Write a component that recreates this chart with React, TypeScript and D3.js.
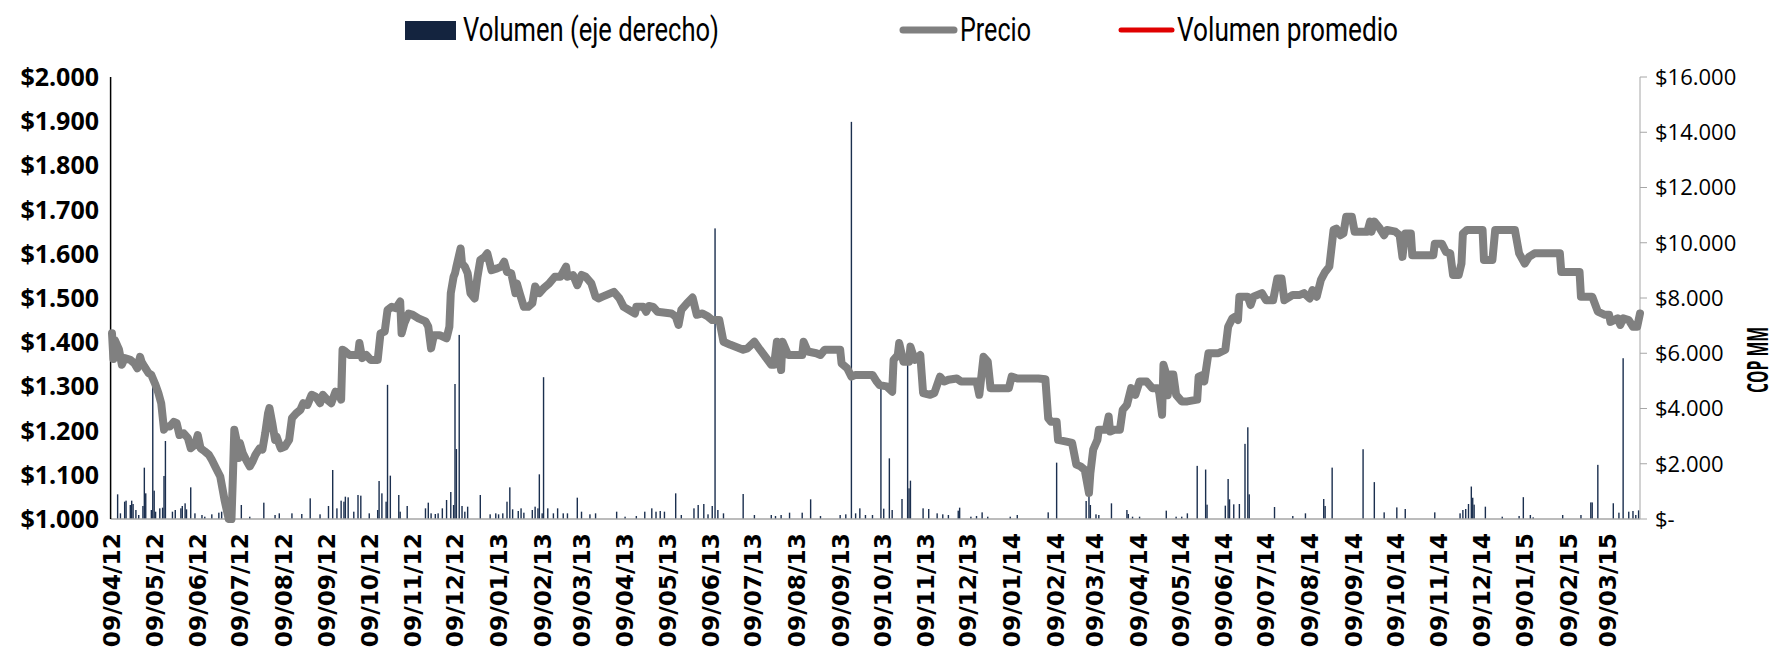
import React from 'react';
import * as d3 from 'd3';

const priceSeries: [string, number][] = [
  ["2012-04-09",1420],["2012-04-10",1362],["2012-04-11",1405],["2012-04-14",1383],["2012-04-16",1349],["2012-04-18",1364],
  ["2012-04-22",1360],["2012-04-25",1352],["2012-04-27",1341],["2012-04-29",1367],["2012-04-30",1356],["2012-05-02",1345],
  ["2012-05-05",1330],["2012-05-07",1326],["2012-05-10",1303],["2012-05-12",1285],["2012-05-14",1262],["2012-05-16",1202],
  ["2012-05-17",1209],["2012-05-20",1209],["2012-05-23",1220],["2012-05-25",1217],["2012-05-27",1190],["2012-05-30",1194],
  ["2012-06-02",1183],["2012-06-04",1160],["2012-06-07",1168],["2012-06-09",1190],["2012-06-11",1160],["2012-06-14",1153],
  ["2012-06-17",1145],["2012-06-19",1134],["2012-06-22",1115],["2012-06-25",1096],["2012-06-28",1044],["2012-07-01",1000],
  ["2012-07-03",1000],["2012-07-04",1096],["2012-07-05",1202],["2012-07-07",1172],["2012-07-08",1138],["2012-07-09",1172],
  ["2012-07-11",1149],["2012-07-14",1130],["2012-07-16",1119],["2012-07-18",1130],["2012-07-20",1145],["2012-07-23",1160],
  ["2012-07-25",1157],["2012-07-27",1194],["2012-07-29",1239],["2012-07-30",1251],["2012-08-01",1217],["2012-08-03",1179],
  ["2012-08-04",1187],["2012-08-07",1160],["2012-08-10",1164],["2012-08-13",1179],["2012-08-15",1228],["2012-08-18",1239],
  ["2012-08-21",1247],["2012-08-23",1262],["2012-08-26",1258],["2012-08-29",1281],["2012-09-01",1277],["2012-09-04",1262],
  ["2012-09-06",1281],["2012-09-09",1270],["2012-09-12",1262],["2012-09-15",1288],["2012-09-17",1285],["2012-09-19",1270],
  ["2012-09-20",1383],["2012-09-22",1379],["2012-09-25",1371],["2012-10-01",1371],["2012-10-02",1398],["2012-10-04",1364],
  ["2012-10-07",1371],["2012-10-10",1360],["2012-10-15",1360],["2012-10-17",1420],["2012-10-20",1424],["2012-10-22",1473],
  ["2012-10-25",1480],["2012-10-28",1477],["2012-10-31",1492],["2012-11-01",1420],["2012-11-03",1443],["2012-11-06",1465],
  ["2012-11-09",1462],["2012-11-13",1454],["2012-11-18",1447],["2012-11-20",1435],["2012-11-22",1386],["2012-11-24",1416],
  ["2012-11-28",1416],["2012-12-03",1409],["2012-12-05",1435],["2012-12-06",1511],["2012-12-08",1548],["2012-12-09",1556],
  ["2012-12-10",1571],["2012-12-13",1612],["2012-12-14",1578],["2012-12-16",1571],["2012-12-18",1556],["2012-12-20",1511],
  ["2012-12-23",1499],["2012-12-25",1548],["2012-12-27",1586],["2012-12-30",1593],["2013-01-01",1601],["2013-01-04",1563],
  ["2013-01-08",1567],["2013-01-11",1571],["2013-01-13",1582],["2013-01-15",1559],["2013-01-18",1556],["2013-01-21",1511],
  ["2013-01-22",1533],["2013-01-24",1511],["2013-01-27",1480],["2013-01-30",1480],["2013-02-02",1488],["2013-02-04",1526],
  ["2013-02-07",1511],["2013-02-10",1522],["2013-02-14",1533],["2013-02-18",1548],["2013-02-22",1548],["2013-02-26",1571],
  ["2013-02-27",1548],["2013-03-03",1552],["2013-03-06",1529],["2013-03-09",1552],["2013-03-12",1548],["2013-03-16",1533],
  ["2013-03-19",1503],["2013-03-21",1499],["2013-03-24",1503],["2013-04-01",1514],["2013-04-05",1499],["2013-04-08",1480],
  ["2013-04-16",1465],["2013-04-17",1480],["2013-04-22",1480],["2013-04-24",1469],["2013-04-26",1482],["2013-04-29",1480],
  ["2013-05-02",1469],["2013-05-12",1465],["2013-05-15",1458],["2013-05-17",1439],["2013-05-19",1473],["2013-05-23",1488],
  ["2013-05-27",1501],["2013-05-30",1462],["2013-06-03",1465],["2013-06-07",1458],["2013-06-10",1450],["2013-06-15",1450],
  ["2013-06-18",1401],["2013-06-23",1394],["2013-07-02",1383],["2013-07-05",1386],["2013-07-10",1401],["2013-07-14",1383],
  ["2013-07-22",1349],["2013-07-24",1349],["2013-07-26",1401],["2013-07-29",1337],["2013-07-30",1401],["2013-08-03",1371],
  ["2013-08-13",1371],["2013-08-14",1401],["2013-08-17",1379],["2013-08-23",1375],["2013-08-26",1371],["2013-08-29",1383],
  ["2013-09-09",1383],["2013-09-10",1352],["2013-09-14",1341],["2013-09-17",1322],["2013-09-20",1326],["2013-10-02",1326],
  ["2013-10-05",1311],["2013-10-07",1303],["2013-10-12",1300],["2013-10-16",1288],["2013-10-17",1360],["2013-10-20",1371],
  ["2013-10-21",1398],["2013-10-24",1356],["2013-10-28",1356],["2013-10-29",1390],["2013-11-01",1360],["2013-11-05",1371],
  ["2013-11-07",1285],["2013-11-12",1281],["2013-11-15",1285],["2013-11-19",1322],["2013-11-22",1311],["2013-11-25",1315],
  ["2013-12-01",1318],["2013-12-04",1311],["2013-12-15",1311],["2013-12-17",1281],["2013-12-20",1367],["2013-12-23",1356],
  ["2013-12-25",1296],["2013-12-30",1296],["2014-01-07",1296],["2014-01-09",1322],["2014-01-13",1318],["2014-01-28",1318],
  ["2014-02-02",1316],["2014-02-04",1228],["2014-02-06",1220],["2014-02-10",1220],["2014-02-11",1179],["2014-02-17",1175],
  ["2014-02-21",1172],["2014-02-24",1123],["2014-02-27",1119],["2014-03-02",1111],["2014-03-05",1059],["2014-03-06",1104],
  ["2014-03-08",1157],["2014-03-11",1179],["2014-03-12",1202],["2014-03-17",1202],["2014-03-19",1232],["2014-03-20",1198],
  ["2014-03-23",1202],["2014-03-27",1202],["2014-03-29",1247],["2014-04-01",1258],["2014-04-04",1296],["2014-04-07",1281],
  ["2014-04-10",1311],["2014-04-15",1311],["2014-04-19",1296],["2014-04-23",1296],["2014-04-24",1285],["2014-04-26",1236],
  ["2014-04-27",1349],["2014-04-29",1327],["2014-04-30",1280],["2014-05-02",1327],["2014-05-04",1327],["2014-05-06",1281],
  ["2014-05-10",1266],["2014-05-14",1266],["2014-05-21",1270],["2014-05-22",1322],["2014-05-25",1326],["2014-05-26",1311],
  ["2014-05-29",1375],["2014-06-05",1375],["2014-06-10",1383],["2014-06-12",1435],["2014-06-15",1454],["2014-06-17",1458],
  ["2014-06-19",1450],["2014-06-20",1503],["2014-06-26",1503],["2014-06-28",1484],["2014-06-30",1503],["2014-07-06",1511],
  ["2014-07-09",1495],["2014-07-14",1495],["2014-07-17",1544],["2014-07-20",1544],["2014-07-22",1495],["2014-07-28",1507],
  ["2014-08-02",1507],["2014-08-05",1511],["2014-08-09",1499],["2014-08-11",1518],["2014-08-14",1503],["2014-08-17",1541],
  ["2014-08-20",1559],["2014-08-23",1571],["2014-08-26",1654],["2014-08-28",1657],["2014-08-31",1642],["2014-09-02",1646],
  ["2014-09-04",1684],["2014-09-08",1684],["2014-09-10",1650],["2014-09-19",1650],["2014-09-21",1673],["2014-09-22",1650],
  ["2014-09-24",1673],["2014-09-28",1657],["2014-10-01",1642],["2014-10-03",1654],["2014-10-09",1650],["2014-10-12",1642],
  ["2014-10-14",1593],["2014-10-16",1646],["2014-10-20",1646],["2014-10-21",1597],["2014-11-05",1597],["2014-11-06",1623],
  ["2014-11-11",1623],["2014-11-14",1604],["2014-11-17",1601],["2014-11-19",1552],["2014-11-23",1552],["2014-11-25",1578],
  ["2014-11-26",1646],["2014-11-29",1654],["2014-12-10",1654],["2014-12-11",1586],["2014-12-17",1586],["2014-12-19",1654],
  ["2015-01-02",1654],["2015-01-05",1601],["2015-01-09",1578],["2015-01-12",1593],["2015-01-16",1601],["2015-02-03",1601],
  ["2015-02-04",1559],["2015-02-17",1559],["2015-02-18",1503],["2015-02-26",1503],["2015-03-02",1469],["2015-03-07",1462],
  ["2015-03-10",1462],["2015-03-11",1446],["2015-03-16",1454],["2015-03-18",1439],["2015-03-20",1454],["2015-03-24",1450],
  ["2015-03-27",1435],["2015-03-30",1435],["2015-04-01",1465]
];

const volumeSeries: [string, number][] = [
  ["2012-04-13",893],["2012-04-15",205],["2012-04-18",627],["2012-04-19",664],["2012-04-22",507],["2012-04-23",664],
  ["2012-04-24",543],["2012-04-26",326],["2012-04-28",145],["2012-05-01",471],["2012-05-02",1858],["2012-05-03",929],
  ["2012-05-07",326],["2012-05-08",4800],["2012-05-09",1026],["2012-05-10",265],["2012-05-13",386],["2012-05-15",410],
  ["2012-05-16",1557],["2012-05-17",2824],["2012-05-22",265],["2012-05-24",326],["2012-05-28",386],["2012-05-29",471],
  ["2012-05-31",567],["2012-06-01",350],["2012-06-04",1146],["2012-06-07",205],["2012-06-12",145],["2012-06-14",84],
  ["2012-06-19",169],["2012-06-24",229],["2012-06-26",265],["2012-07-10",507],["2012-07-16",84],["2012-07-26",591],
  ["2012-08-03",145],["2012-08-06",205],["2012-08-15",205],["2012-08-22",181],["2012-08-28",748],["2012-09-04",169],
  ["2012-09-10",471],["2012-09-13",1774],["2012-09-16",386],["2012-09-19",664],["2012-09-21",627],["2012-09-22",808],
  ["2012-09-24",784],["2012-09-28",265],["2012-10-01",869],["2012-10-03",845],["2012-10-09",205],["2012-10-15",326],
  ["2012-10-16",1375],["2012-10-18",929],["2012-10-21",627],["2012-10-22",4856],["2012-10-24",1569],["2012-10-30",869],
  ["2012-10-31",265],["2012-11-05",471],["2012-11-18",386],["2012-11-20",591],["2012-11-22",205],["2012-11-25",181],
  ["2012-11-27",205],["2012-11-30",386],["2012-12-03",688],["2012-12-06",977],["2012-12-08",507],["2012-12-09",4887],
  ["2012-12-10",2533],["2012-12-12",6664],["2012-12-14",471],["2012-12-16",265],["2012-12-18",446],["2012-12-27",869],
  ["2013-01-03",169],["2013-01-07",205],["2013-01-09",169],["2013-01-12",205],["2013-01-15",627],["2013-01-17",1146],
  ["2013-01-19",350],["2013-01-23",290],["2013-01-25",386],["2013-01-27",229],["2013-02-02",326],["2013-02-04",446],
  ["2013-02-06",386],["2013-02-07",1617],["2013-02-09",205],["2013-02-10",5133],["2013-02-13",386],["2013-02-17",205],
  ["2013-02-20",386],["2013-02-24",205],["2013-02-27",205],["2013-03-06",772],["2013-03-09",265],["2013-03-15",169],
  ["2013-03-19",205],["2013-04-03",265],["2013-04-09",84],["2013-04-17",109],["2013-04-23",265],["2013-04-28",386],
  ["2013-05-01",265],["2013-05-04",290],["2013-05-07",265],["2013-05-15",929],["2013-05-19",145],["2013-05-28",386],
  ["2013-05-31",507],["2013-06-04",543],["2013-06-07",169],["2013-06-10",471],["2013-06-12",10520],["2013-06-14",326],
  ["2013-06-18",205],["2013-07-02",905],["2013-07-10",145],["2013-07-22",145],["2013-07-25",109],["2013-07-29",145],
  ["2013-08-04",229],["2013-08-13",229],["2013-08-19",712],["2013-08-26",109],["2013-09-09",145],["2013-09-13",169],
  ["2013-09-17",14376],["2013-09-20",205],["2013-09-23",386],["2013-09-27",145],["2013-10-02",145],["2013-10-08",4736],
  ["2013-10-10",374],["2013-10-14",2196],["2013-10-16",326],["2013-10-23",724],["2013-10-27",5639],["2013-10-28",1110],
  ["2013-10-29",1388],["2013-11-07",386],["2013-11-11",362],["2013-11-17",205],["2013-11-21",169],["2013-11-25",145],
  ["2013-12-02",302],["2013-12-03",410],["2013-12-11",84],["2013-12-15",109],["2013-12-19",241],["2013-12-23",84],
  ["2014-01-08",84],["2014-01-13",145],["2014-02-04",241],["2014-02-10",2040],["2014-03-03",652],["2014-03-05",869],
  ["2014-03-06",507],["2014-03-10",169],["2014-03-12",145],["2014-03-21",567],["2014-04-01",326],["2014-04-02",181],
  ["2014-04-05",84],["2014-04-10",84],["2014-04-29",302],["2014-05-06",84],["2014-05-10",84],["2014-05-14",205],
  ["2014-05-21",1923],["2014-05-27",1790],["2014-05-28",519],["2014-06-10",483],["2014-06-12",1448],["2014-06-13",712],
  ["2014-06-16",531],["2014-06-20",543],["2014-06-24",2720],["2014-06-26",3320],["2014-06-27",893],["2014-07-15",434],
  ["2014-07-28",109],["2014-08-06",205],["2014-08-19",724],["2014-08-20",471],["2014-08-25",1860],["2014-09-16",2525],
  ["2014-09-24",1335],["2014-10-01",241],["2014-10-10",420],["2014-10-16",362],["2014-11-06",241],["2014-11-24",205],
  ["2014-11-26",326],["2014-11-28",362],["2014-11-30",543],["2014-12-02",1175],["2014-12-03",770],["2014-12-04",520],
  ["2014-12-12",446],["2014-12-24",84],["2015-01-05",109],["2015-01-08",790],["2015-01-13",145],["2015-01-15",60],
  ["2015-02-05",145],["2015-02-18",145],["2015-02-25",600],["2015-02-26",600],["2015-03-02",1960],["2015-03-13",570],
  ["2015-03-17",229],["2015-03-20",5820],["2015-03-24",265],["2015-03-27",290],["2015-03-29",145],["2015-03-31",313]
];

const xTickLabels = [
  "09/04/12","09/05/12","09/06/12","09/07/12","09/08/12","09/09/12","09/10/12","09/11/12","09/12/12",
  "09/01/13","09/02/13","09/03/13","09/04/13","09/05/13","09/06/13","09/07/13","09/08/13","09/09/13",
  "09/10/13","09/11/13","09/12/13","09/01/14","09/02/14","09/03/14","09/04/14","09/05/14","09/06/14",
  "09/07/14","09/08/14","09/09/14","09/10/14","09/11/14","09/12/14","09/01/15","09/02/15","09/03/15"
];

const leftTicks = [1000, 1100, 1200, 1300, 1400, 1500, 1600, 1700, 1800, 1900, 2000];
const rightTicks = [0, 2000, 4000, 6000, 8000, 10000, 12000, 14000, 16000];
const legendLabels = ["Volumen (eje derecho)", "Precio", "Volumen promedio"];
const xDomain = ["2012-04-08", "2015-04-01"];

const W = 1775;
const H = 649;
const TOP = 77;
const BOTTOM = 519;
const RIGHT = 1640;

const fmtThousands = (v: number) => d3.format(",")(v).replace(/,/g, ".");

export default function App() {
  const parse = d3.timeParse("%Y-%m-%d");
  const parseTick = d3.timeParse("%d/%m/%y");
  const x = d3.scaleTime()
    .domain([parse(xDomain[0]) as Date, parse(xDomain[1]) as Date])
    .range([110.6, RIGHT]);
  const yL = d3.scaleLinear().domain([1000, 2000]).range([BOTTOM, TOP]);
  const yR = d3.scaleLinear().domain([0, 16000]).range([BOTTOM, TOP]);
  const LEFT = x.range()[0];

  const line = d3.line<[string, number]>()
    .x(d => x(parse(d[0]) as Date))
    .y(d => yL(d[1]))
    .curve(d3.curveLinear);

  const condensed = "'Liberation Sans Narrow', 'Roboto', sans-serif";

  return (
    <svg width={W} height={H} style={{ position: 'absolute', left: 0, top: 0, background: '#fff' }}>
      {/* legend */}
      <g>
        <rect x={405} y={21} width={51} height={19} fill="#14243F" />
        <text x={463} y={41} fontFamily={condensed} fontSize={33} fill="#000"
          textLength={256} lengthAdjust="spacingAndGlyphs">{legendLabels[0]}</text>
        <line x1={903} x2={954} y1={30} y2={30} stroke="#808080" strokeWidth={7} strokeLinecap="round" />
        <text x={960} y={41} fontFamily={condensed} fontSize={33} fill="#000"
          textLength={71} lengthAdjust="spacingAndGlyphs">{legendLabels[1]}</text>
        <line x1={1121} x2={1172} y1={30} y2={30} stroke="#E00000" strokeWidth={5} strokeLinecap="round" />
        <text x={1177} y={41} fontFamily={condensed} fontSize={33} fill="#000"
          textLength={221} lengthAdjust="spacingAndGlyphs">{legendLabels[2]}</text>
      </g>

      {/* volume bars */}
      <g fill="#1B2F4F">
        {volumeSeries.map((d, i) => {
          const cx = x(parse(d[0]) as Date);
          const y = yR(d[1]);
          return <rect key={i} x={cx - 0.7} y={y} width={1.4} height={BOTTOM - y} />;
        })}
      </g>

      {/* axes */}
      <line x1={LEFT} x2={RIGHT} y1={BOTTOM} y2={BOTTOM} stroke="#A6A6A6" strokeWidth={1.5} />
      <line x1={LEFT} x2={LEFT} y1={TOP} y2={BOTTOM} stroke="#000" strokeWidth={1.5} />
      <line x1={RIGHT} x2={RIGHT} y1={TOP} y2={BOTTOM} stroke="#A6A6A6" strokeWidth={1} />
      {rightTicks.map(t => (
        <line key={t} x1={RIGHT} x2={RIGHT + 7} y1={yR(t)} y2={yR(t)} stroke="#A6A6A6" strokeWidth={1} />
      ))}

      {/* price line */}
      <path d={line(priceSeries) || ''} fill="none" stroke="#808080" strokeWidth={8}
        strokeLinejoin="round" strokeLinecap="round" />

      {/* left tick labels */}
      {leftTicks.map(t => (
        <text key={t} x={99} y={yL(t)} dy="0.36em" textAnchor="end"
          fontFamily="'Open Sans', sans-serif" fontWeight="bold" fontSize={25} fill="#000">
          {"$" + fmtThousands(t)}
        </text>
      ))}

      {/* right tick labels */}
      {rightTicks.map(t => (
        <text key={t} x={1655} y={yR(t)} dy="0.36em" textAnchor="start"
          fontFamily="'Open Sans', sans-serif" fontSize={22} fill="#000">
          {t === 0 ? "$-" : "$" + fmtThousands(t)}
        </text>
      ))}

      {/* right axis title */}
      <text transform={`translate(1758, 360) rotate(-90)`} textAnchor="middle" dy="0.36em"
        fontFamily="'Open Sans', sans-serif" fontWeight="bold" fontSize={28} fill="#000"
        textLength={66} lengthAdjust="spacingAndGlyphs">COP MM</text>

      {/* x tick labels */}
      {xTickLabels.map(lbl => {
        const cx = x(parseTick(lbl) as Date);
        return (
          <text key={lbl} transform={`translate(${cx}, 533) rotate(-90)`} textAnchor="end" dy="0.36em"
            fontFamily="'DejaVu Sans', sans-serif" fontWeight="bold" fontSize={23.3} fill="#000">
            {lbl}
          </text>
        );
      })}
    </svg>
  );
}
